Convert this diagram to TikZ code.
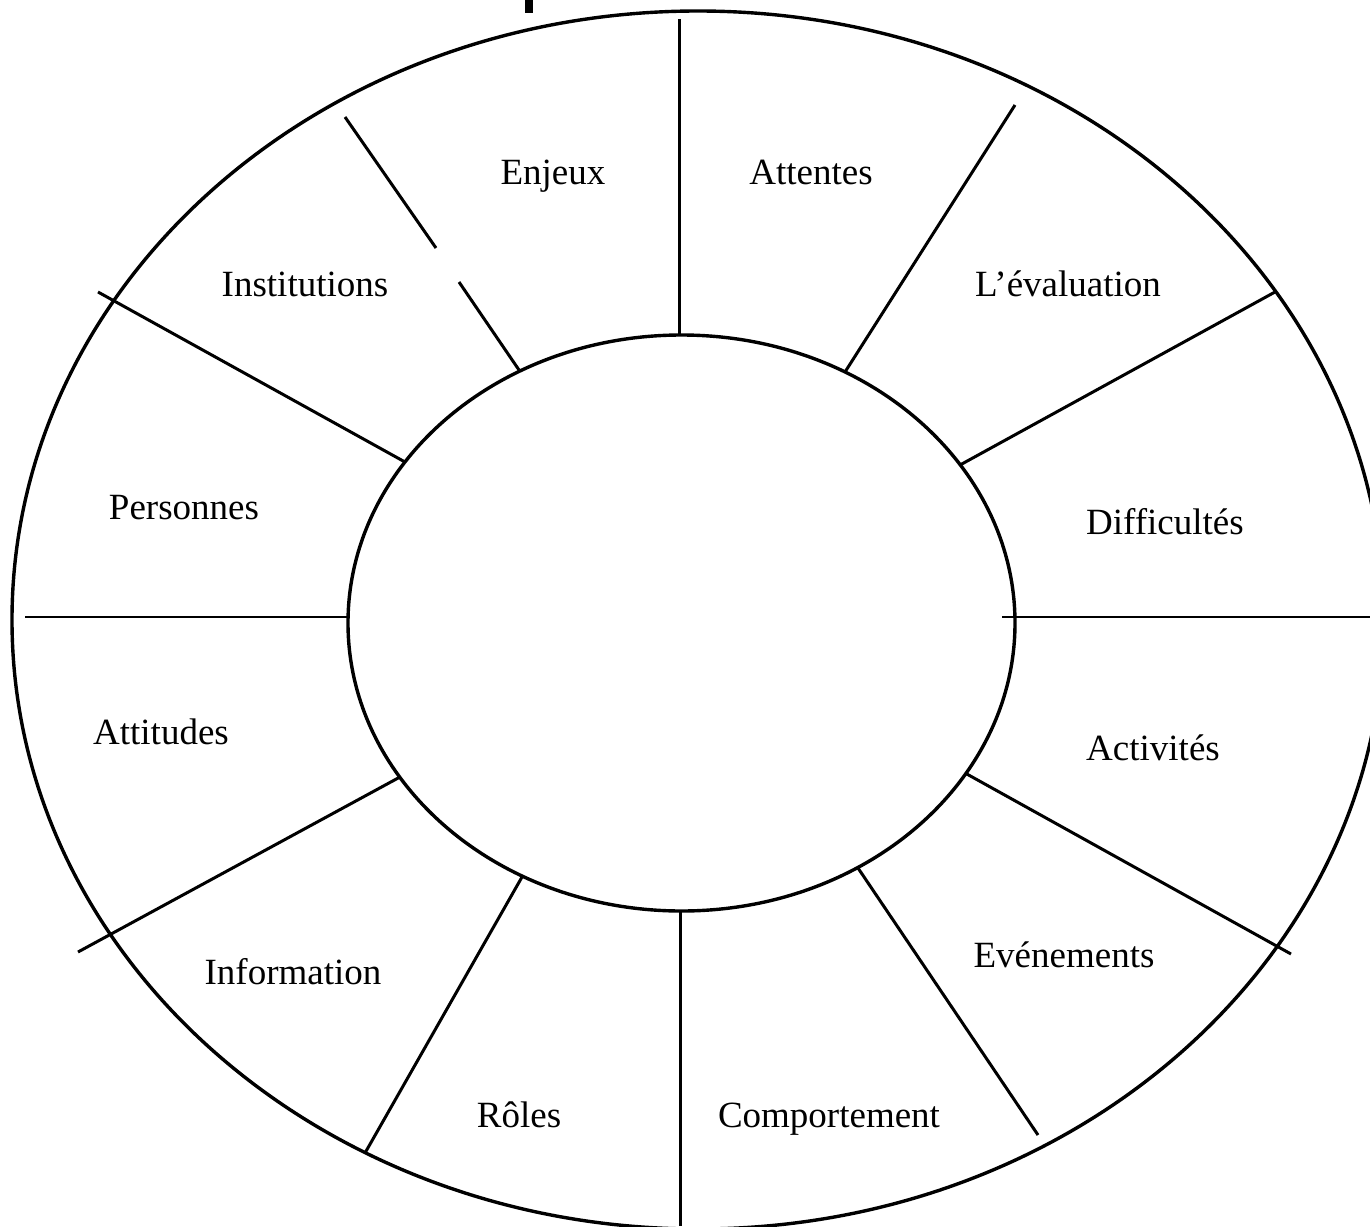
\documentclass[tikz,border=0pt]{standalone}
\usepackage{fontspec}
\setmainfont{Liberation Serif}
\begin{document}
\begin{tikzpicture}[x=1pt,y=-1pt,
  rim/.style={line width=3.4pt},
  spoke/.style={line width=3pt},
  axis/.style={line width=1.3pt},
  lbl/.style={font=\fontsize{37}{40}\selectfont, inner sep=0pt, anchor=base}]
\useasboundingbox (0,0) rectangle (1370,1226);
\begin{scope}
  \clip (0,0) rectangle (1370,1226);
  % outer rim and inner hub
  \draw[rim] (698,620) ellipse [x radius=686, y radius=609];
  \draw[rim] (681.5,623) ellipse [x radius=333.5, y radius=288];
  % descender of the cut-off heading
  \fill (525,0) rectangle (533,13);
  % vertical spokes
  \draw[spoke] (679,19) -- (679,335);
  \draw[spoke] (680,911) -- (680,1226);
  % horizontal spokes
  \draw[axis] (25,617) -- (348,617);
  \draw[axis] (1002,617) -- (1370,617);
  % slanted spokes
  \draw[spoke] (845,372) -- (1015,105);
  \draw[spoke] (960,465) -- (1275,292);
  \draw[spoke] (965,773) -- (1291,954);
  \draw[spoke] (858,868) -- (1038,1135);
  \draw[spoke] (522,877) -- (365,1153);
  \draw[spoke] (400,777) -- (78,952);
  \draw[spoke] (405,462) -- (98,292);
  \draw[spoke] (345,117) -- (436,248);
  \draw[spoke] (459,282) -- (519,370);
\end{scope}
% sector labels
\node[lbl] (enjeux)   at (553,184)  {Enjeux};
\node[lbl] (attentes) at (811,184)  {Attentes};
\node[lbl] (instit)   at (305,296)  {Institutions};
\node[lbl] (evalu)    at (1068,296) {L’évaluation};
\node[lbl] (pers)     at (184,519)  {Personnes};
\node[lbl] (diff)     at (1165,534) {Difficultés};
\node[lbl] (attit)    at (161,744)  {Attitudes};
\node[lbl] (activ)    at (1153,760) {Activités};
\node[lbl] (info)     at (293,984)  {Information};
\node[lbl] (even)     at (1064,967) {Evénements};
\node[lbl] (roles)    at (519,1127) {Rôles};
\node[lbl] (comport)  at (829,1127) {Comportement};
\end{tikzpicture}
\end{document}
